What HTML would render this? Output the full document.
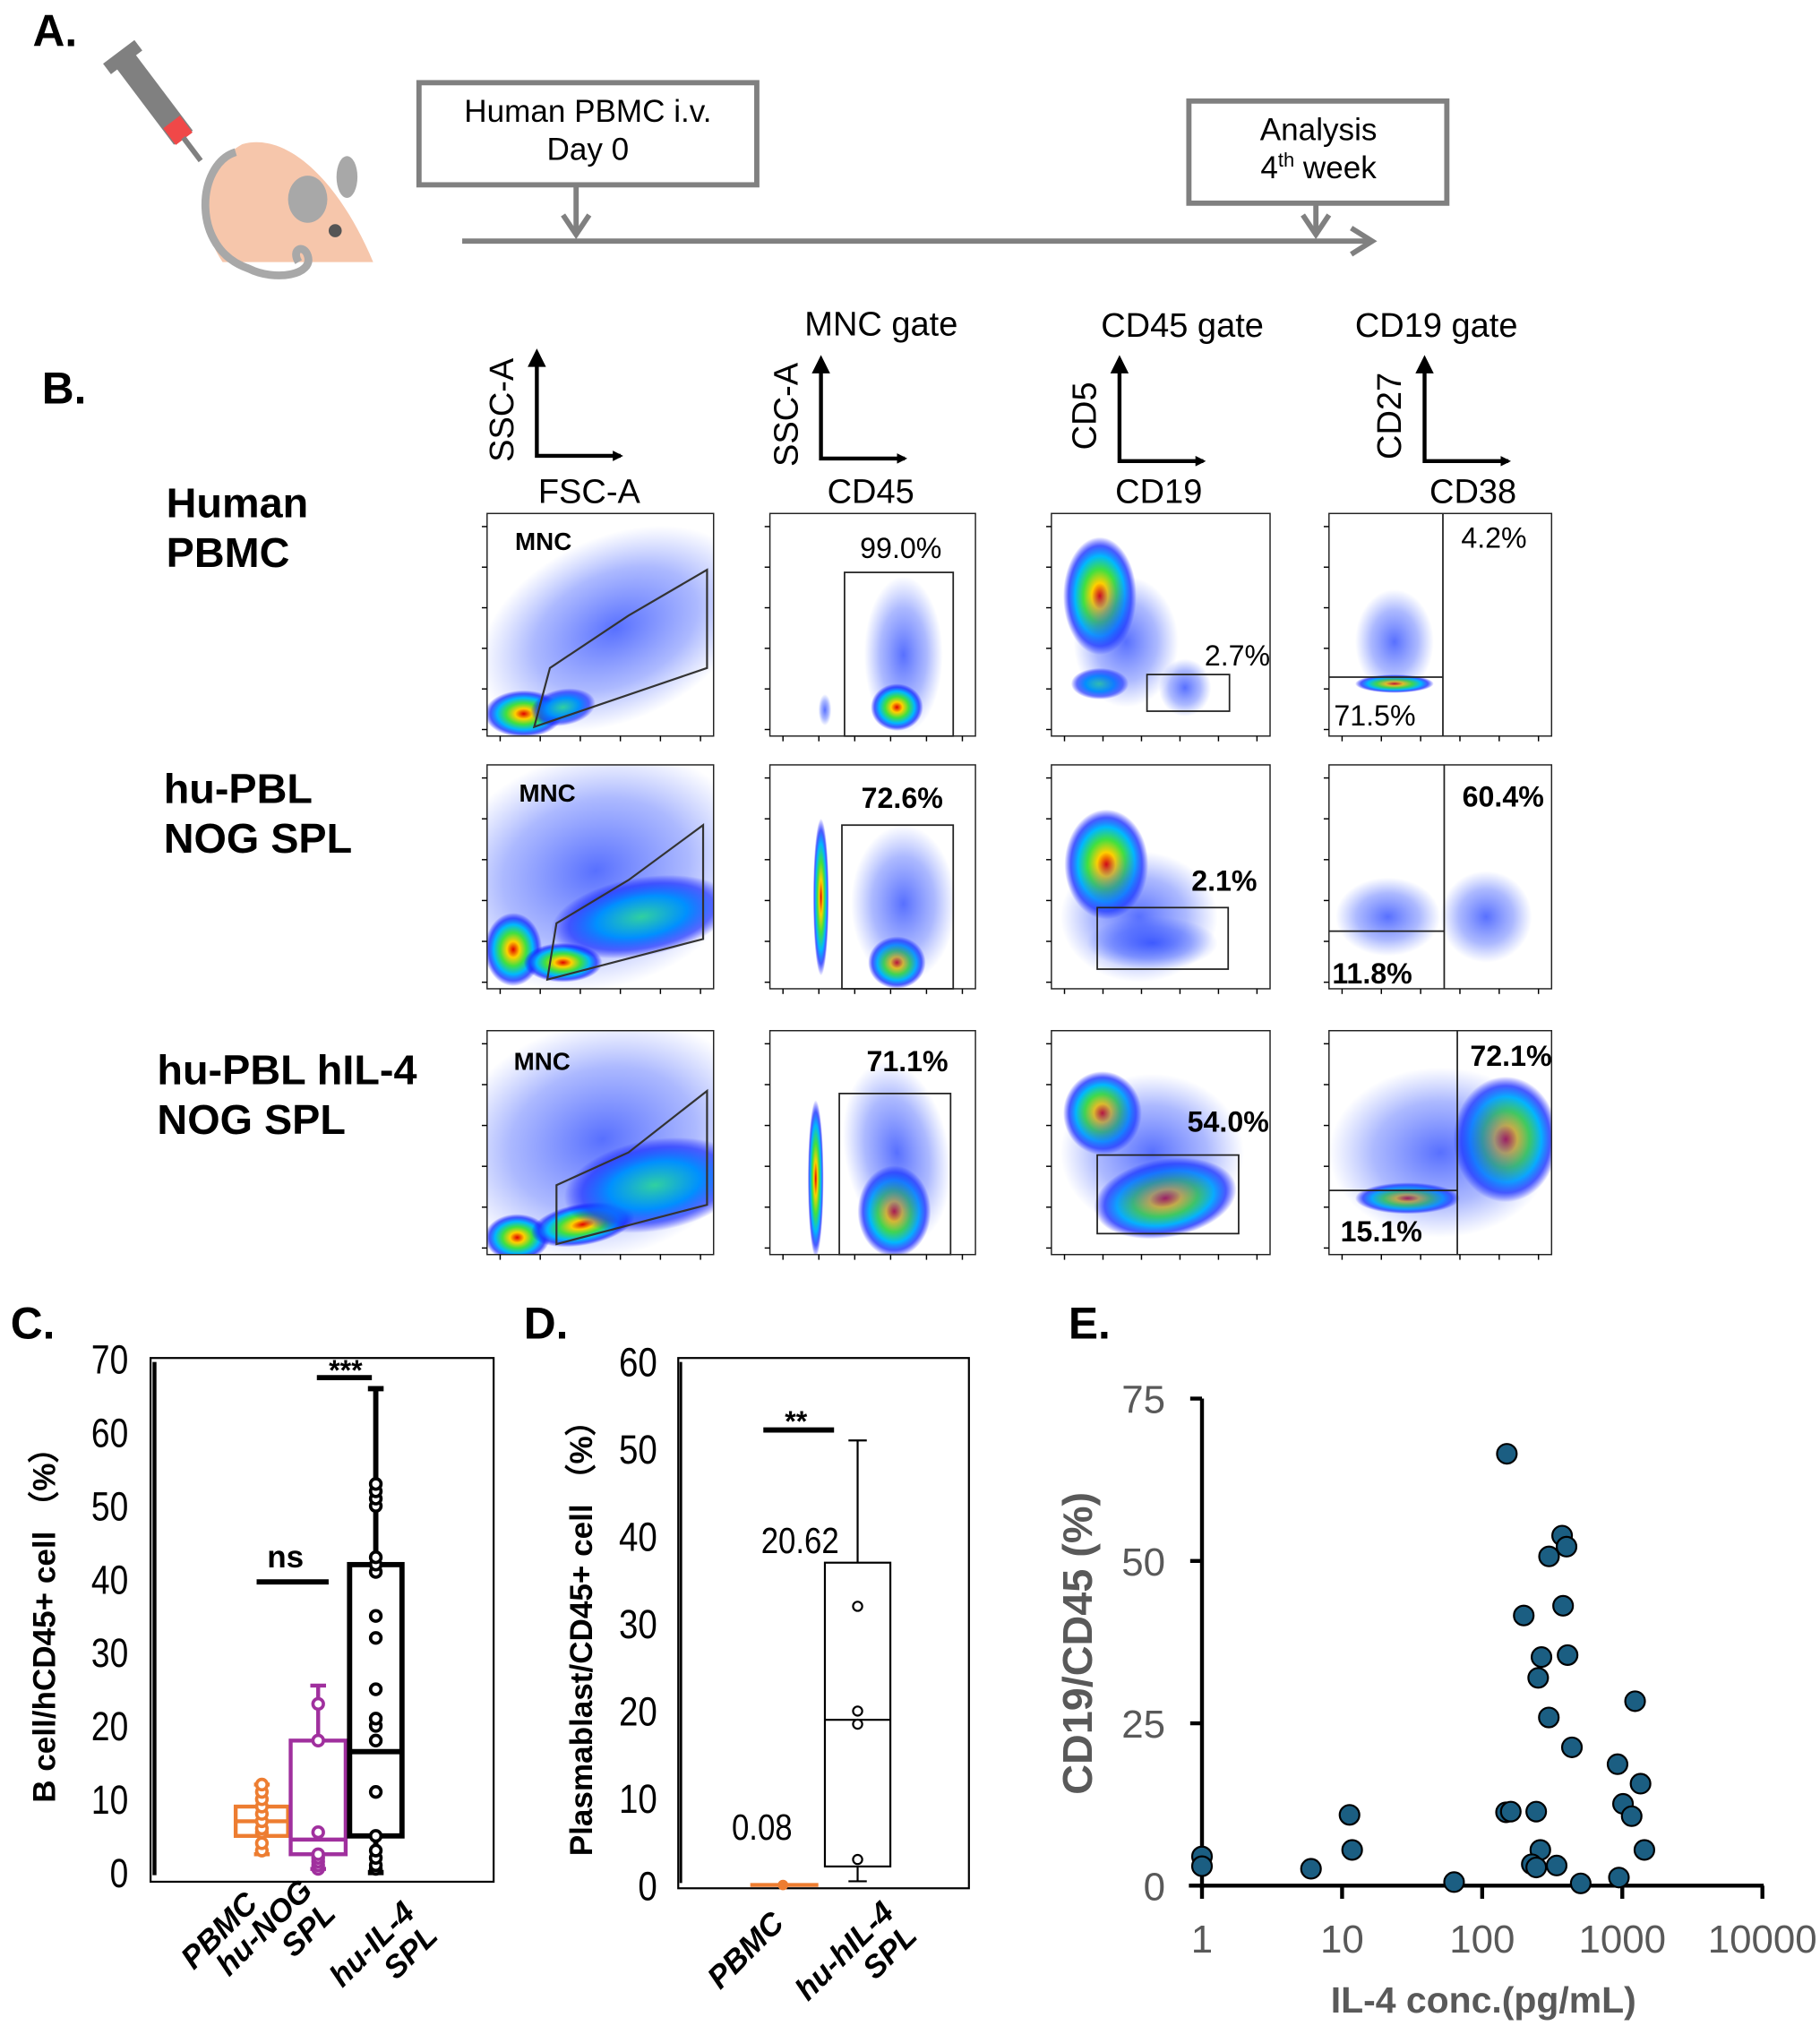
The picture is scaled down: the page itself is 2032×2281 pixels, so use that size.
<!DOCTYPE html>
<html><head><meta charset="utf-8"><style>
html,body{margin:0;padding:0;background:#fff;}
svg{display:block;}
text{font-family:"Liberation Sans",sans-serif;}
</style></head><body>
<svg id="fig" width="2032" height="2281" viewBox="0 0 1390 1560" xmlns="http://www.w3.org/2000/svg">
<defs>
<radialGradient id="hot"><stop offset="0" stop-color="#e00000"/><stop offset="0.22" stop-color="#ffd000"/><stop offset="0.45" stop-color="#40e040"/><stop offset="0.68" stop-color="#00b8ff"/><stop offset="0.85" stop-color="#1a30ff" stop-opacity="0.8"/><stop offset="1" stop-color="#0000ff" stop-opacity="0"/></radialGradient>
<radialGradient id="warm"><stop offset="0" stop-color="#30d0a0"/><stop offset="0.5" stop-color="#0090ff"/><stop offset="0.8" stop-color="#1a30ff" stop-opacity="0.7"/><stop offset="1" stop-color="#0000ff" stop-opacity="0"/></radialGradient>
<radialGradient id="cloud"><stop offset="0" stop-color="#2040ff" stop-opacity="0.75"/><stop offset="0.6" stop-color="#3050ff" stop-opacity="0.4"/><stop offset="1" stop-color="#4060ff" stop-opacity="0"/></radialGradient>
<marker id="ah" markerWidth="8" markerHeight="8" refX="6" refY="4" orient="auto" markerUnits="userSpaceOnUse"><path d="M0,0 L8,4 L0,8 z" fill="#000"/></marker>
</defs>

<!-- Panel A -->
<text x="25" y="35" font-size="34" font-weight="bold">A.</text>
<g>
  <g transform="rotate(53 125 85)"><rect x="75" y="76" width="75" height="18" fill="#808080"/><rect x="68" y="70" width="10" height="30" fill="#808080"/><rect x="135" y="77" width="16" height="16" fill="#f04848"/><rect x="150" y="83" width="22" height="4" fill="#808080"/></g>
  <path d="M285,200 L170,200 C150,170 150,130 185,110 C220,100 260,140 285,200 Z" fill="#f6c6ab"/>
  <ellipse cx="235" cy="152" rx="15" ry="18" fill="#a8a8a8"/>
  <ellipse cx="265" cy="135" rx="8" ry="16" fill="#a8a8a8"/>
  <circle cx="256" cy="176" r="5" fill="#555"/>
  <path d="M180,116 C150,125 145,190 190,205 C210,215 240,210 235,195 C232,186 222,190 228,200" fill="none" stroke="#a8a8a8" stroke-width="6"/>
</g>
<g stroke="#808080" fill="none" stroke-width="4">
  <rect x="320" y="63" width="258" height="78"/>
  <rect x="908" y="77" width="197" height="78"/>
  <line x1="353" y1="184" x2="1046" y2="184"/>
  <path d="M1032,174 L1048,184 L1032,194"/>
  <line x1="440" y1="141" x2="440" y2="178"/><path d="M430,164 L440,179 L450,164"/>
  <line x1="1005" y1="155" x2="1005" y2="178"/><path d="M995,164 L1005,179 L1015,164"/>
</g>
<g font-size="24" text-anchor="middle">
  <text x="449" y="93">Human PBMC i.v.</text><text x="449" y="122">Day 0</text>
  <text x="1007" y="107">Analysis</text><text x="1007" y="136">4<tspan font-size="15" dy="-9">th</tspan><tspan dy="9"> week</tspan></text>
</g>

<!-- Panel B -->
<text x="32" y="308" font-size="34" font-weight="bold">B.</text>
<g font-size="26" text-anchor="middle">
  <text x="673" y="256">MNC gate</text><text x="903" y="257">CD45 gate</text><text x="1097" y="257">CD19 gate</text>
</g>
<g id="axisIcons" stroke="#000" stroke-width="3"></g>
<g font-size="32" font-weight="bold">
  <text x="127" y="395">Human</text><text x="127" y="433">PBMC</text>
  <text x="125" y="613">hu-PBL</text><text x="125" y="651">NOG SPL</text>
  <text x="120" y="828">hu-PBL hIL-4</text><text x="120" y="866">NOG SPL</text>
</g>
<g id="flow"></g>

<!-- Panel C -->
<text x="8" y="1022" font-size="34" font-weight="bold">C.</text>
<g id="chartC"></g>
<!-- Panel D -->
<text x="400" y="1022" font-size="34" font-weight="bold">D.</text>
<g id="chartD"></g>
<!-- Panel E -->
<text x="816" y="1022" font-size="34" font-weight="bold">E.</text>
<g id="chartE"></g>
</svg>
<script>
const NS='http://www.w3.org/2000/svg';
function mk(parent,tag,attrs,txt){const e=document.createElementNS(NS,tag);for(const k in attrs)e.setAttribute(k,attrs[k]);if(txt!==undefined)e.textContent=txt;parent.appendChild(e);return e;}

// ---------- axis icons ----------
const icons=document.getElementById('axisIcons');
const iconDefs=[[410,270,348,480,'SSC-A','FSC-A',450],[627,275,350,697,'SSC-A','CD45',665],[855,275,352,925,'CD5','CD19',885],[1088,275,352,1158,'CD27','CD38',1125]];
iconDefs.forEach(d=>{
  const l=mk(icons,'polyline',{points:`${d[0]},${d[1]+6} ${d[0]},${d[2]} ${d[3]-6},${d[2]}`,fill:'none','marker-end':'url(#ah)'});
  
  
  mk(icons,'path',{d:`M${d[0]-7},${d[1]+10} L${d[0]},${d[1]-4} L${d[0]+7},${d[1]+10}Z`,fill:'#000',stroke:'none'});
  const yl=mk(icons,'text',{x:0,y:0,transform:`translate(${d[0]-18},${(d[1]+d[2])/2+4}) rotate(-90)`,'text-anchor':'middle','font-size':26,stroke:'none'},d[4]);
  
  
  const xl=mk(icons,'text',{x:d[6],y:384,'text-anchor':'middle','font-size':26,stroke:'none'},d[5]);
  
  
});

// ---------- flow plots (illustrative density) ----------
const flow=document.getElementById('flow');
const cols=[[372,545],[588,745],[803,970],[1015,1185]];
const rows=[[392,562],[584,755],[787,958]];
const blobs=[
 [0,0,470,480,110,70,'cloud',-25],[0,0,400,545,30,18,'hot',0],[0,0,430,540,25,14,'warm',-10],
 [0,1,690,500,30,60,'cloud',0],[0,1,685,540,20,18,'hot',0],[0,1,630,542,5,12,'cloud',0],
 [0,2,840,455,28,45,'hot',0],[0,2,840,522,22,12,'warm',0],[0,2,905,525,20,22,'cloud',0],[0,2,860,490,40,50,'cloud',0],
 [0,3,1065,522,30,7,'hot',0],[0,3,1065,490,30,40,'cloud',0],
 [1,0,455,665,120,90,'cloud',-15],[1,0,392,725,22,28,'hot',0],[1,0,430,735,30,15,'hot',0],[1,0,490,700,70,30,'warm',-10],
 [1,1,627,685,6,60,'hot',0],[1,1,685,735,22,20,'hot',0],[1,1,690,690,40,60,'cloud',0],
 [1,2,845,660,32,42,'hot',0],[1,2,870,700,60,50,'cloud',0],[1,2,880,720,50,20,'cloud',0],
 [1,3,1060,700,40,30,'cloud',0],[1,3,1135,700,35,35,'cloud',0],
 [2,0,460,870,120,90,'cloud',-15],[2,0,395,945,25,18,'hot',0],[2,0,445,935,40,16,'hot',-10],[2,0,500,905,70,35,'warm',-10],
 [2,1,623,900,6,60,'hot',0],[2,1,683,925,28,35,'hot',0],[2,1,685,880,40,70,'cloud',-10],
 [2,2,842,850,30,32,'hot',0],[2,2,890,915,55,30,'hot',-10],[2,2,880,880,70,60,'cloud',0],
 [2,3,1150,870,40,48,'hot',0],[2,3,1075,915,40,12,'hot',0],[2,3,1100,880,85,65,'cloud',0]
];
rows.forEach((r,ri)=>cols.forEach((c,ci)=>{
  const g=mk(flow,'g',{});
  
  
  const cp='cp'+ri+ci;
  const clip=mk(g,'clipPath',{id:cp});mk(clip,'rect',{x:c[0],y:r[0],width:c[1]-c[0],height:r[1]-r[0]});
  const inner=mk(g,'g',{'clip-path':`url(#${cp})`});
  blobs.filter(b=>b[0]===ri&&b[1]===ci).forEach(b=>mk(inner,'ellipse',{cx:b[2],cy:b[3],rx:b[4],ry:b[5],fill:`url(#${b[6]})`,transform:`rotate(${b[7]} ${b[2]} ${b[3]})`}));
  mk(g,'rect',{x:c[0],y:r[0],width:c[1]-c[0],height:r[1]-r[0],fill:'none',stroke:'#222','stroke-width':1});
  for(let i=0;i<6;i++){mk(g,'line',{x1:c[0]+10+i*(c[1]-c[0]-20)/5,y1:r[1],x2:c[0]+10+i*(c[1]-c[0]-20)/5,y2:r[1]+4,stroke:'#000','stroke-width':1});
    mk(g,'line',{x1:c[0]-4,y1:r[1]-5-i*(r[1]-r[0]-15)/5,x2:c[0],y2:r[1]-5-i*(r[1]-r[0]-15)/5,stroke:'#000','stroke-width':1});}
}));
const gates=[
 ['polygon','408,555 540,510 540,435 480,470 420,510'],['rect',645,437,83,125],['rect',876,515,63,28],['v',1102,0],['h',1015,1102,517],
 ['polygon','418,748 537,717 537,630 480,672 425,705'],['rect',643,630,85,125],['rect',838,693,100,47],['v',1103,1],['h',1015,1103,711],
 ['polygon','425,950 540,920 540,833 480,880 425,905'],['rect',641,835,85,123],['rect',838,882,108,60],['v',1113,2],['h',1015,1113,909]
];
gates.forEach(gd=>{
  let e;
  if(gd[0]==='polygon')e=mk(flow,'polygon',{points:gd[1],fill:'none',stroke:'#333','stroke-width':1.5});
  else if(gd[0]==='rect')e=mk(flow,'rect',{x:gd[1],y:gd[2],width:gd[3],height:gd[4],fill:'none',stroke:'#222','stroke-width':1.2});
  else if(gd[0]==='v')e=mk(flow,'line',{x1:gd[1],y1:rows[gd[2]][0],x2:gd[1],y2:rows[gd[2]][1],stroke:'#222','stroke-width':1.2});
  else e=mk(flow,'line',{x1:gd[1],y1:gd[3],x2:gd[2],y2:gd[3],stroke:'#222','stroke-width':1.2});
  
  
});
const pct=[['MNC',415,420,1],['99.0%',688,426,0],['2.7%',945,508,0],['4.2%',1141,418,0],['71.5%',1050,554,0],
 ['MNC',418,612,1],['72.6%',689,617,1],['2.1%',935,680,1],['60.4%',1148,616,1],['11.8%',1048,751,1],
 ['MNC',414,817,1],['71.1%',693,818,1],['54.0%',938,864,1],['72.1%',1154,814,1],['15.1%',1055,948,1]];
pct.forEach(p=>{const t=mk(flow,'text',{x:p[1],y:p[2],'text-anchor':'middle','font-size':p[0]==='MNC'?19:22,'font-weight':p[3]?'bold':'normal'},p[0]);
  
  });

function rotLabel(g,lines,x,y){
  const e=mk(g,'text',{x:0,y:0,transform:`translate(${x},${y}) rotate(-45)`,'text-anchor':'end','font-size':24,'font-weight':'bold','font-style':'italic'});
  
  
  lines.forEach((s,i)=>mk(e,'tspan',{x:0,dy:i?25:0},s));
}

// ---------- Panel C data ----------
const cGroups=['PBMC','hu-NOG SPL','hu-IL-4 SPL'];
const cQ1=[5,2.5,5];
const cMed=[7,4.5,16.5];
const cQ3=[9,18,42];
const cWLo=[2.5,0.5,0];
const cWHi=[12,25.5,66];
const cPts=[[3,4,5.5,6,7,8,9,10,11,12],[0.5,1,1.5,2,2.5,5.5,18,23],[0.5,1,2,3,5,11,18,20,21,25,32,35,41,42,43,50,51,52,53]];
const cTicks=[0,10,20,30,40,50,60,70];
(function(){
  const g=document.getElementById('chartC');
  const y=v=>1430-v*5.6;
  const xc=[200,243,287],hw=[20,21,20],colr=['#ed7d31','#a0309e','#000'];
  mk(g,'rect',{x:115,y:1037,width:262,height:400,fill:'none',stroke:'#000','stroke-width':1.5});
  mk(g,'line',{x1:118,y1:1040,x2:118,y2:1432,stroke:'#000','stroke-width':3});
  cTicks.forEach(t=>{const e=mk(g,'text',{x:0,y:0,transform:`translate(98,${y(t)+11}) scale(0.82,1)`,'text-anchor':'end','font-size':31},t);
    
    });
  const tt=mk(g,'text',{x:0,y:0,transform:'translate(42,1235) rotate(-90)','text-anchor':'middle','font-size':24,'font-weight':'bold'},'B cell/hCD45+ cell （%）');
  
  
  cGroups.forEach((grp,i)=>{
    const c=colr[i],sw=i===2?4:3;
    const b=mk(g,'g',{});
    
    
    mk(b,'line',{x1:xc[i],y1:y(cWLo[i]),x2:xc[i],y2:y(cWHi[i]),stroke:c,'stroke-width':sw});
    mk(b,'line',{x1:xc[i]-6,y1:y(cWHi[i]),x2:xc[i]+6,y2:y(cWHi[i]),stroke:c,'stroke-width':sw});
    mk(b,'line',{x1:xc[i]-6,y1:y(cWLo[i]),x2:xc[i]+6,y2:y(cWLo[i]),stroke:c,'stroke-width':sw});
    mk(b,'rect',{x:xc[i]-hw[i],y:y(cQ3[i]),width:2*hw[i],height:y(cQ1[i])-y(cQ3[i]),fill:'#fff',stroke:c,'stroke-width':sw});
    mk(b,'line',{x1:xc[i]-hw[i],y1:y(cMed[i]),x2:xc[i]+hw[i],y2:y(cMed[i]),stroke:c,'stroke-width':sw});
    cPts[i].forEach(v=>{const p=mk(b,'circle',{cx:xc[i],cy:y(v),r:4,fill:'#fff',stroke:c,'stroke-width':2.5});
      
      });
  });
  mk(g,'line',{x1:196,y1:1208,x2:251,y2:1208,stroke:'#000','stroke-width':4});
  mk(g,'text',{x:218,y:1197,'text-anchor':'middle','font-size':24,'font-weight':'bold'},'ns');
  mk(g,'line',{x1:242,y1:1052,x2:284,y2:1052,stroke:'#000','stroke-width':4});
  mk(g,'text',{x:264,y:1054,'text-anchor':'middle','font-size':22,'font-weight':'bold'},'***');
  rotLabel(g,['PBMC'],198,1455);
  rotLabel(g,['hu-NOG','SPL'],240,1445);
  rotLabel(g,['hu-IL-4','SPL'],318,1462);
})();

// ---------- Panel D data ----------
const dGroups=['PBMC','hu-hIL-4 SPL'];
const dQ1=[0.08,2.2];
const dMed=[0.08,19];
const dQ3=[0.08,37];
const dWLo=[0.08,0.5];
const dWHi=[0.08,51];
const dPts=[[0.08],[3,18.5,20,32]];
const dMeans=['0.08','20.62'];
const dTicks=[0,10,20,30,40,50,60];
(function(){
  const g=document.getElementById('chartD');
  const y=v=>1440-v*6.667;
  mk(g,'rect',{x:518,y:1037,width:222,height:405,fill:'none',stroke:'#000','stroke-width':1.5});
  mk(g,'line',{x1:520,y1:1040,x2:520,y2:1438,stroke:'#000','stroke-width':2});
  dTicks.forEach(t=>{const e=mk(g,'text',{x:0,y:0,transform:`translate(502,${y(t)+11}) scale(0.85,1)`,'text-anchor':'end','font-size':31},t);
    
    });
  const tt=mk(g,'text',{x:0,y:0,transform:'translate(452,1245) rotate(-90)','text-anchor':'middle','font-size':24,'font-weight':'bold'},'Plasmablast/CD45+ cell （%）');
  
  
  const b0=mk(g,'g',{});
  
  
  mk(b0,'line',{x1:573,y1:y(dMed[0]),x2:625,y2:y(dMed[0]),stroke:'#ed7d31','stroke-width':3});
  dPts[0].forEach(v=>mk(b0,'circle',{cx:598,cy:y(v),r:4,fill:'#ed7d31'}));
  const b1=mk(g,'g',{});
  
  
  const xc=655;
  mk(b1,'line',{x1:xc,y1:y(dWLo[1]),x2:xc,y2:y(dWHi[1]),stroke:'#000','stroke-width':1.5});
  mk(b1,'line',{x1:xc-7,y1:y(dWHi[1]),x2:xc+7,y2:y(dWHi[1]),stroke:'#000','stroke-width':1.5});
  mk(b1,'line',{x1:xc-7,y1:y(dWLo[1]),x2:xc+7,y2:y(dWLo[1]),stroke:'#000','stroke-width':1.5});
  mk(b1,'rect',{x:630,y:y(dQ3[1]),width:50,height:y(dQ1[1])-y(dQ3[1]),fill:'#fff',stroke:'#000','stroke-width':1.5});
  mk(b1,'line',{x1:630,y1:y(dMed[1]),x2:680,y2:y(dMed[1]),stroke:'#000','stroke-width':1.5});
  dPts[1].forEach(v=>{const p=mk(b1,'circle',{cx:xc,cy:y(v),r:3.5,fill:'#fff',stroke:'#000','stroke-width':1.5});
    
    });
  mk(g,'text',{x:0,y:0,transform:'translate(582,1405) scale(0.85,1)','text-anchor':'middle','font-size':28},dMeans[0]);
  mk(g,'text',{x:0,y:0,transform:'translate(611,1186) scale(0.85,1)','text-anchor':'middle','font-size':28},dMeans[1]);
  mk(g,'line',{x1:583,y1:1092,x2:637,y2:1092,stroke:'#000','stroke-width':4});
  mk(g,'text',{x:608,y:1093,'text-anchor':'middle','font-size':22,'font-weight':'bold'},'**');
  rotLabel(g,['PBMC'],600,1470);
  rotLabel(g,['hu-hIL-4','SPL'],684,1462);
})();

// ---------- Panel E data ----------
const eIL4=[1,1,6,11.3,11.8,63,150,148,160,198,243,265,251,299,300,372,400,378,407,437,260,226,243,340,505,925,946,1234,1350,1012,1167,1438];
const eCD19=[4.5,3.0,2.6,10.9,5.5,0.55,66.5,11.3,11.4,41.6,11.4,35.2,32.0,25.9,50.7,53.9,52.2,43.1,35.5,21.3,5.5,3.3,2.8,3.1,0.35,18.7,1.25,28.4,15.7,12.6,10.7,5.5];
const eXTicks=[1,10,100,1000,10000];
const eYTicks=[0,25,50,75];
(function(){
  const g=document.getElementById('chartE');
  const x=v=>918+Math.log10(v)*107;
  const y=v=>1440-v*4.96;
  mk(g,'line',{x1:918,y1:y(75),x2:918,y2:1442,stroke:'#000','stroke-width':3});
  mk(g,'line',{x1:908,y1:1440,x2:1347,y2:1440,stroke:'#000','stroke-width':3});
  eYTicks.forEach(t=>{mk(g,'line',{x1:909,y1:y(t),x2:918,y2:y(t),stroke:'#000','stroke-width':3});
    const e=mk(g,'text',{x:890,y:y(t)+11,'text-anchor':'end','font-size':30,fill:'#595959'},t);
    
    });
  eXTicks.forEach(t=>{mk(g,'line',{x1:x(t),y1:1440,x2:x(t),y2:1450,stroke:'#000','stroke-width':3});
    const e=mk(g,'text',{x:x(t),y:1491,'text-anchor':'middle','font-size':30,fill:'#595959'},t);
    
    });
  const yt=mk(g,'text',{x:0,y:0,transform:'translate(834,1255) rotate(-90)','text-anchor':'middle','font-size':32,'font-weight':'bold',fill:'#595959'},'CD19/CD45 (%)');
  
  
  const xt=mk(g,'text',{x:1133,y:1537,'text-anchor':'middle','font-size':28,'font-weight':'bold',fill:'#595959'},'IL-4 conc.(pg/mL)');
  
  
  eIL4.forEach((v,i)=>{const p=mk(g,'circle',{cx:x(v),cy:y(eCD19[i]),r:7.5,fill:'#1b5e82',stroke:'#000','stroke-width':1.5});
    
    });
})();
</script>
</body></html>
